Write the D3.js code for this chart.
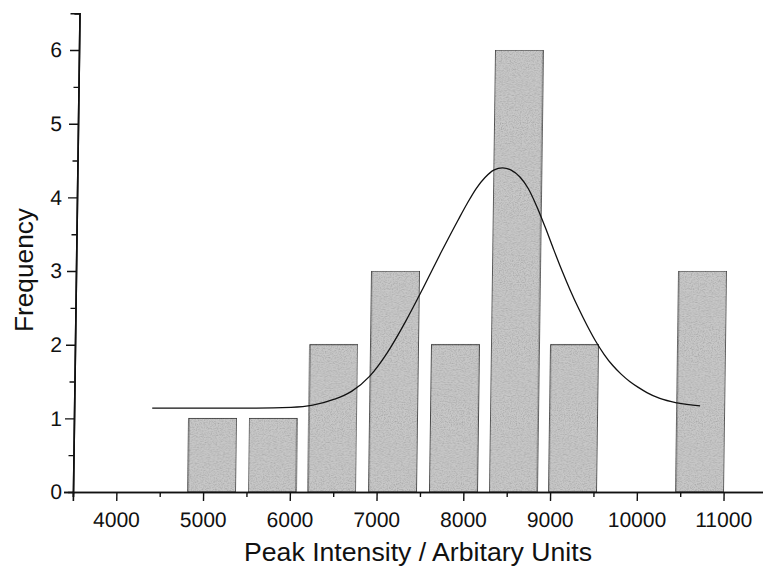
<!DOCTYPE html>
<html>
<head>
<meta charset="utf-8">
<script src="https://cdn.jsdelivr.net/npm/d3@7"></script>
<style>
  html, body { margin: 0; padding: 0; background: #ffffff; }
  svg { display: block; }
  text { font-family: "Liberation Sans", Arial, Helvetica, sans-serif; fill: #111; }
</style>
</head>
<body>
<svg id="chart" width="763" height="574"></svg>
<script>
// Histogram bins: centre of each bin (peak intensity) and its count
const binCenters = [5100, 5795, 6485, 7185, 7885, 8575, 9260, 10725];
const binCounts  = [1, 1, 2, 3, 2, 6, 2, 3];
const binWidth   = 553;

// Gaussian fit curve, sampled along its length
const fitX = [4400, 5000, 5600, 6000, 6250, 6500, 6700, 6900, 7100, 7300, 7500, 7700, 7900, 8000, 8100, 8200, 8300, 8400, 8500, 8600, 8700, 8800, 8900, 9000, 9100, 9200, 9300, 9400, 9500, 9600, 9700, 9800, 9900, 10000, 10100, 10250, 10450, 10715];
const fitY = [1.14, 1.14, 1.14, 1.15, 1.18, 1.26, 1.37, 1.57, 1.89, 2.30, 2.76, 3.24, 3.70, 3.92, 4.12, 4.27, 4.37, 4.40, 4.37, 4.28, 4.12, 3.88, 3.60, 3.30, 3.01, 2.74, 2.49, 2.26, 2.05, 1.87, 1.72, 1.60, 1.50, 1.42, 1.35, 1.27, 1.21, 1.17];

// Axis ticks
const xMajorTicks = [4000, 5000, 6000, 7000, 8000, 9000, 10000, 11000];
const xMinorTicks = [3500, 4500, 5500, 6500, 7500, 8500, 9500, 10500, 11500];
const yMajorTicks = [0, 1, 2, 3, 4, 5, 6];
const yMinorTicks = [0.5, 1.5, 2.5, 3.5, 4.5, 5.5, 6.5];

const xTitle = "Peak Intensity / Arbitary Units";
const yTitle = "Frequency";

const svg = d3.select("#chart");

// light speckle texture on the bar fill
const defs = svg.append("defs");
const grain = defs.append("filter").attr("id", "grain")
  .attr("x", 0).attr("y", 0).attr("width", "100%").attr("height", "100%");
grain.append("feTurbulence")
  .attr("type", "fractalNoise").attr("baseFrequency", 0.85)
  .attr("numOctaves", 2).attr("seed", 7).attr("result", "noise");
grain.append("feColorMatrix")
  .attr("in", "noise").attr("type", "matrix")
  .attr("values", "0 0 0 0 0  0 0 0 0 0  0 0 0 0 0  0 0 0 0.7 -0.28")
  .attr("result", "specks");
grain.append("feComposite")
  .attr("in", "specks").attr("in2", "SourceGraphic")
  .attr("operator", "in").attr("result", "specksIn");
const merge = grain.append("feMerge");
merge.append("feMergeNode").attr("in", "SourceGraphic");
merge.append("feMergeNode").attr("in", "specksIn");

const x = d3.scaleLinear().domain([3500, 11500]).range([73, 767]);
const y = d3.scaleLinear().domain([0, 6.5]).range([492, 13.2]);

const baseY = y(0);
const shear = -0.78; // degrees, slight lean of the whole plot
const k = Math.tan(-shear * Math.PI / 180);

const plot = svg.append("g")
  .attr("transform", `translate(0,${baseY}) skewX(${shear}) translate(0,${-baseY})`);

// bars
plot.append("g")
  .selectAll("rect")
  .data(binCenters.map((c, i) => ({ c, n: binCounts[i] })))
  .join("rect")
  .attr("x", d => x(d.c - binWidth / 2))
  .attr("width", d => x(d.c + binWidth / 2) - x(d.c - binWidth / 2))
  .attr("y", d => y(d.n))
  .attr("height", d => y(0) - y(d.n))
  .attr("fill", "#c8c8c8")
  .attr("stroke", "#3a3a3a")
  .attr("stroke-width", 1)
  .attr("filter", "url(#grain)");

// fit curve
const line = d3.line()
  .x(d => x(d[0]))
  .y(d => y(d[1]))
  .curve(d3.curveMonotoneX);

plot.append("path")
  .datum(fitX.map((v, i) => [v, fitY[i]]))
  .attr("d", line)
  .attr("fill", "none")
  .attr("stroke", "#111")
  .attr("stroke-width", 1.3);

// x axis
const xAxisMinor = plot.append("g")
  .attr("transform", `translate(0,${baseY})`)
  .call(d3.axisBottom(x).tickValues(xMinorTicks).tickSize(5).tickFormat(""));
const xAxis = plot.append("g")
  .attr("transform", `translate(0,${baseY})`)
  .call(d3.axisBottom(x).tickValues(xMajorTicks).tickSize(9).tickPadding(11).tickFormat(d3.format("d")));

// y axis
const yAxisMinor = plot.append("g")
  .attr("transform", `translate(${x(3500)},0)`)
  .call(d3.axisLeft(y).tickValues(yMinorTicks).tickSize(5).tickFormat(""));
const yAxis = plot.append("g")
  .attr("transform", `translate(${x(3500)},0)`)
  .call(d3.axisLeft(y).tickValues(yMajorTicks).tickSize(9).tickPadding(2).tickFormat(d3.format("d")));

[xAxis, xAxisMinor, yAxis, yAxisMinor].forEach(g => {
  g.select(".domain").attr("stroke", "#111").attr("stroke-width", 1.6);
  g.selectAll(".tick line").attr("stroke", "#111").attr("stroke-width", 1.4);
});

xAxis.selectAll(".tick text")
  .attr("font-size", 21)
  .attr("fill", "#111");

// keep the y tick labels upright in a straight column
yAxis.selectAll(".tick text")
  .attr("font-size", 21)
  .attr("fill", "#111")
  .attr("x", d => -11 - k * (baseY - y(d)));

// axis titles
svg.append("text")
  .attr("x", 418)
  .attr("y", 561)
  .attr("text-anchor", "middle")
  .attr("font-size", 25)
  .attr("textLength", 348)
  .attr("lengthAdjust", "spacingAndGlyphs")
  .text(xTitle);

svg.append("text")
  .attr("transform", "translate(33,270) rotate(-90)")
  .attr("text-anchor", "middle")
  .attr("font-size", 25)
  .attr("textLength", 124)
  .attr("lengthAdjust", "spacingAndGlyphs")
  .text(yTitle);
</script>
</body>
</html>
